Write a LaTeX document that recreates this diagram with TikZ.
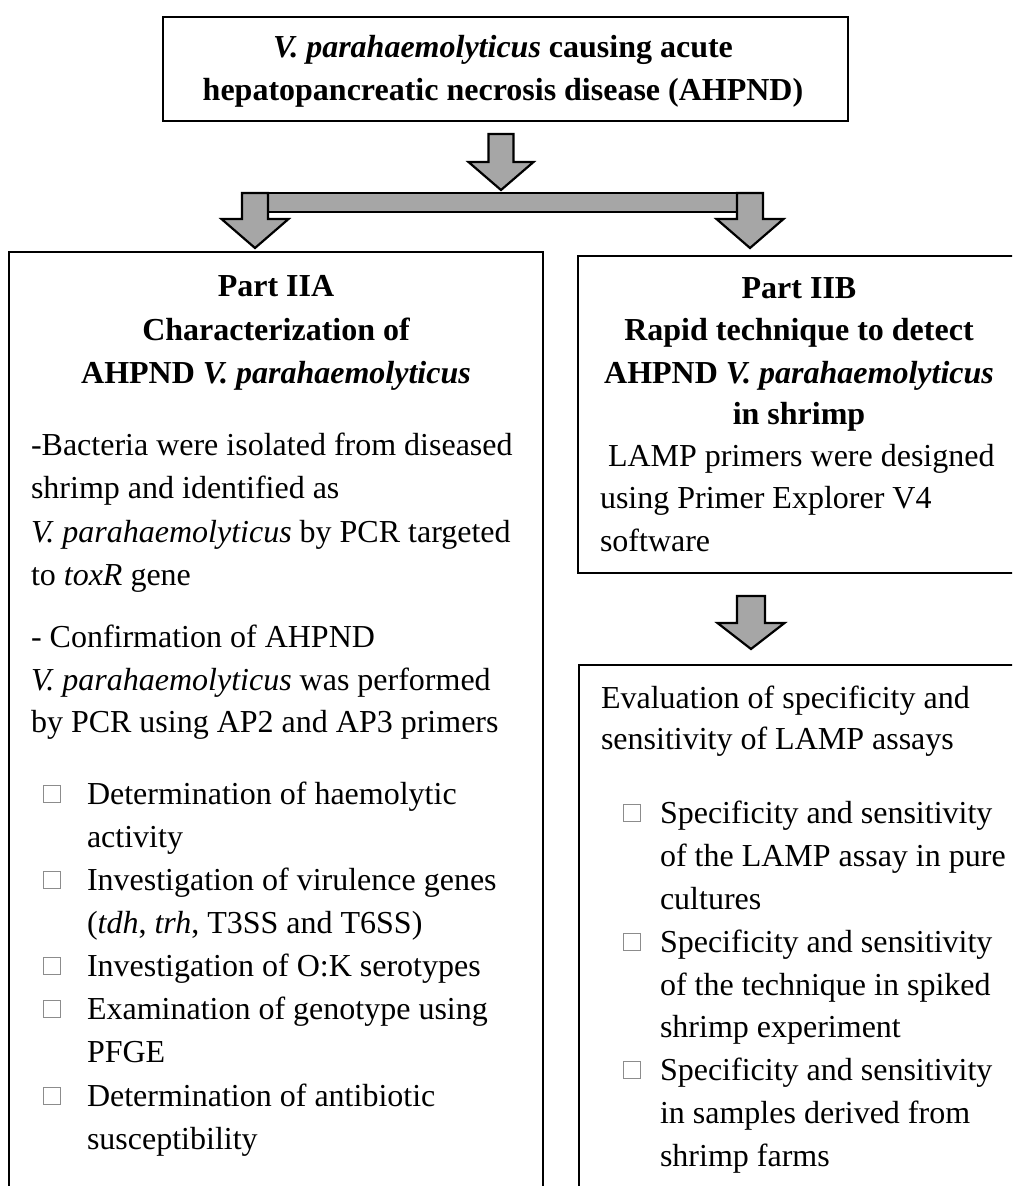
\documentclass[tikz,border=0pt]{standalone}
\usepackage{fontspec}
\setmainfont{Liberation Serif}
\newcommand{\sqbox}{\raisebox{2.5pt}{\textcolor{black!45}{\fboxsep0pt\fboxrule0.8pt\fbox{\rule{0pt}{16pt}\rule{16pt}{0pt}}}}}
\newcommand{\downblock}[6]{%
  \draw[blockarrow] (#1-#2,#4) -- (#1+#2,#4) -- (#1+#2,#5) -- (#1+#3,#5) -- (#1,#6) -- (#1-#3,#5) -- (#1-#2,#5) -- cycle;}
\begin{document}
\begin{tikzpicture}[x=1pt,y=-1pt,
  every node/.style={inner sep=0pt,outer sep=0pt,font=\fontsize{32}{38}\selectfont},
  frame/.style={draw=black,line width=1.6pt,anchor=north west,minimum width=#1},
  blockarrow/.style={draw=black,fill=black!35,line width=2.2pt,line join=miter},
  head/.style={anchor=base,font=\fontsize{32}{38}\selectfont\bfseries},
  body/.style={anchor=base west}]
\useasboundingbox (0,0) rectangle (1012,1186);
\clip (0,0) rectangle (1012,1186);
\fill[white] (0,0) rectangle (1012,1186);

% boxes
\node[frame=685pt,minimum height=104pt] (topbox) at (163,17) {};
\node[frame=534pt,minimum height=1000pt] (boxA) at (9,252) {};
\node[frame=460pt,minimum height=317pt] (boxB) at (578,256) {};
\node[frame=460pt,minimum height=600pt] (boxC) at (579,665) {};

% block arrows
\downblock{501}{12.5}{32.5}{134}{162}{190}
\draw[blockarrow] (255,193) rectangle (750,212);
\downblock{255}{13}{33.5}{193}{219}{248}
\downblock{750}{13}{33.5}{193}{219}{248}
\downblock{751}{14}{33.5}{596}{623}{649}

% top box text
\node[head] (t1) at (503,57) {\textit{V. parahaemolyticus} causing acute};
\node[head] (t2) at (503,100) {hepatopancreatic necrosis disease (AHPND)};

% Part IIA
\node[head] (a1) at (276,296) {Part IIA};
\node[head] (a2) at (276,340) {Characterization of};
\node[head] (a3) at (276,383) {AHPND \textit{V. parahaemolyticus}};
\node[body] (a4) at (31,455) {-Bacteria were isolated from diseased};
\node[body] (a5) at (31,498) {shrimp and identified as};
\node[body] (a6) at (31,542) {\textit{V. parahaemolyticus} by PCR targeted};
\node[body] (a7) at (31,585) {to \textit{toxR} gene};
\node[body] (a8) at (31,647) {- Confirmation of AHPND};
\node[body] (a9) at (31,690) {\textit{V. parahaemolyticus} was performed};
\node[body] (a10) at (31,732) {by PCR using AP2 and AP3 primers};
\node[body] (q1) at (43,804) {\sqbox};
\node[body] (b1) at (87,804) {Determination of haemolytic};
\node[body] (b2) at (87,847) {activity};
\node[body] (q2) at (43,890) {\sqbox};
\node[body] (b3) at (87,890) {Investigation of virulence genes};
\node[body] (b4) at (87,933) {(\textit{tdh}, \textit{trh}, T3SS and T6SS)};
\node[body] (q3) at (43,976) {\sqbox};
\node[body] (b5) at (87,976) {Investigation of O:K serotypes};
\node[body] (q4) at (43,1019) {\sqbox};
\node[body] (b6) at (87,1019) {Examination of genotype using};
\node[body] (b7) at (87,1062) {PFGE};
\node[body] (q5) at (43,1106) {\sqbox};
\node[body] (b8) at (87,1106) {Determination of antibiotic};
\node[body] (b9) at (87,1149) {susceptibility};

% Part IIB
\node[head] (c1) at (799,298) {Part IIB};
\node[head] (c2) at (799,340) {Rapid technique to detect};
\node[head] (c3) at (799,383) {AHPND \textit{V. parahaemolyticus}};
\node[head] (c4) at (799,424) {in shrimp};
\node[body] (c5) at (608,466) {LAMP primers were designed};
\node[body] (c6) at (600,508) {using Primer Explorer V4};
\node[body] (c7) at (600,551) {software};

% Evaluation box
\node[body] (d1) at (601,708) {Evaluation of specificity and};
\node[body] (d2) at (601,749) {sensitivity of LAMP assays};
\node[body] (r1) at (623,823) {\sqbox};
\node[body] (e1) at (660,823) {Specificity and sensitivity};
\node[body] (e2) at (660,866) {of the LAMP assay in pure};
\node[body] (e3) at (660,909) {cultures};
\node[body] (r2) at (623,952) {\sqbox};
\node[body] (e4) at (660,952) {Specificity and sensitivity};
\node[body] (e5) at (660,995) {of the technique in spiked};
\node[body] (e6) at (660,1037) {shrimp experiment};
\node[body] (r3) at (623,1080) {\sqbox};
\node[body] (e7) at (660,1080) {Specificity and sensitivity};
\node[body] (e8) at (660,1123) {in samples derived from};
\node[body] (e9) at (660,1166) {shrimp farms};
\end{tikzpicture}
\end{document}
